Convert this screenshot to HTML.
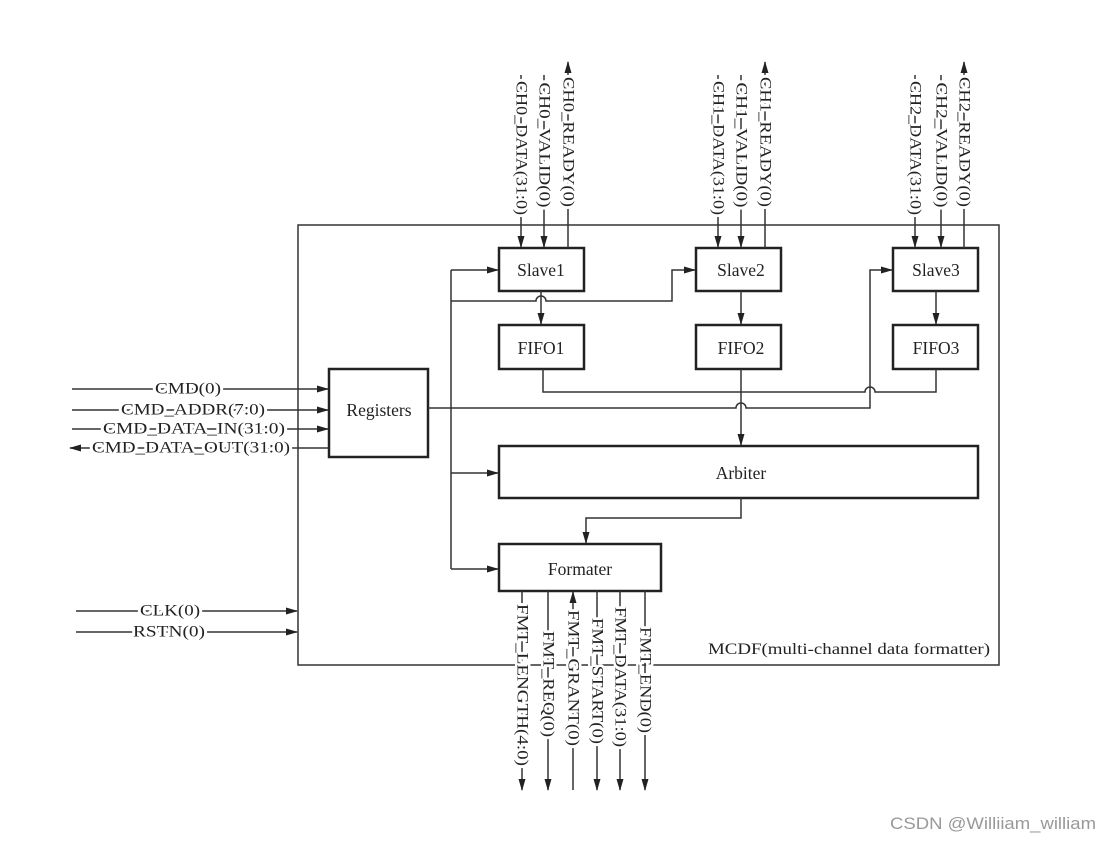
<!DOCTYPE html>
<html><head><meta charset="utf-8"><style>
html,body{margin:0;padding:0;background:#fff;}
svg{display:block;font-family:"Liberation Serif",serif;}
</style></head><body>
<svg width="1113" height="841" viewBox="0 0 1113 841" xmlns="http://www.w3.org/2000/svg">
<defs><marker id="a" markerWidth="12" markerHeight="8" refX="11" refY="4" orient="auto" markerUnits="userSpaceOnUse"><path d="M0,0.5 L12,4 L0,7.5 Z" fill="#222"/></marker>
<g id="vt" font-size="16" text-anchor="middle" dominant-baseline="central">
<text transform="translate(521,148) rotate(90)" textLength="134" lengthAdjust="spacingAndGlyphs">CH0_DATA(31:0)</text>
<text transform="translate(544,145) rotate(90)" textLength="125" lengthAdjust="spacingAndGlyphs">CH0_VALID(0)</text>
<text transform="translate(568,142) rotate(90)" textLength="130" lengthAdjust="spacingAndGlyphs">CH0_READY(0)</text>
<text transform="translate(718,148) rotate(90)" textLength="134" lengthAdjust="spacingAndGlyphs">CH1_DATA(31:0)</text>
<text transform="translate(741,145) rotate(90)" textLength="125" lengthAdjust="spacingAndGlyphs">CH1_VALID(0)</text>
<text transform="translate(765,142) rotate(90)" textLength="130" lengthAdjust="spacingAndGlyphs">CH1_READY(0)</text>
<text transform="translate(915,148) rotate(90)" textLength="134" lengthAdjust="spacingAndGlyphs">CH2_DATA(31:0)</text>
<text transform="translate(941,145) rotate(90)" textLength="125" lengthAdjust="spacingAndGlyphs">CH2_VALID(0)</text>
<text transform="translate(964,142) rotate(90)" textLength="130" lengthAdjust="spacingAndGlyphs">CH2_READY(0)</text>
<text transform="translate(522,685) rotate(90)" textLength="162" lengthAdjust="spacingAndGlyphs">FMT_LENGTH(4:0)</text>
<text transform="translate(548,684) rotate(90)" textLength="106" lengthAdjust="spacingAndGlyphs">FMT_REQ(0)</text>
<text transform="translate(573,678) rotate(90)" textLength="136" lengthAdjust="spacingAndGlyphs">FMT_GRANT(0)</text>
<text transform="translate(597,681) rotate(90)" textLength="126" lengthAdjust="spacingAndGlyphs">FMT_START(0)</text>
<text transform="translate(620,677) rotate(90)" textLength="140" lengthAdjust="spacingAndGlyphs">FMT_DATA(31:0)</text>
<text transform="translate(645,680) rotate(90)" textLength="106" lengthAdjust="spacingAndGlyphs">FMT_END(0)</text>
<text x="188" y="389" textLength="66" lengthAdjust="spacingAndGlyphs">CMD(0)</text>
<text x="193" y="410" textLength="144" lengthAdjust="spacingAndGlyphs">CMD_ADDR(7:0)</text>
<text x="194" y="429" textLength="182" lengthAdjust="spacingAndGlyphs">CMD_DATA_IN(31:0)</text>
<text x="191" y="448" textLength="198" lengthAdjust="spacingAndGlyphs">CMD_DATA_OUT(31:0)</text>
<text x="170" y="611" textLength="60" lengthAdjust="spacingAndGlyphs">CLK(0)</text>
<text x="169" y="632" textLength="72" lengthAdjust="spacingAndGlyphs">RSTN(0)</text>
</g>
</defs>
<g stroke="#333" stroke-width="1.5" fill="none">
<rect x="298" y="225" width="701" height="440"/>
</g>
<g stroke="#222" stroke-width="2.5" fill="#fff">
<rect x="499" y="248" width="85" height="43"/>
<rect x="696" y="248" width="85" height="43"/>
<rect x="893" y="248" width="85" height="43"/>
<rect x="499" y="325" width="85" height="44"/>
<rect x="696" y="325" width="85" height="44"/>
<rect x="893" y="325" width="85" height="44"/>
<rect x="329" y="369" width="99" height="88"/>
<rect x="499" y="446" width="479" height="52"/>
<rect x="499" y="544" width="162" height="47"/>
</g>
<g stroke="#333" stroke-width="1.5" fill="none">
<line x1="521" y1="75" x2="521" y2="247" marker-end="url(#a)"/>
<line x1="544" y1="75" x2="544" y2="247" marker-end="url(#a)"/>
<line x1="568" y1="248" x2="568" y2="62" marker-end="url(#a)"/>
<line x1="718" y1="75" x2="718" y2="247" marker-end="url(#a)"/>
<line x1="741" y1="75" x2="741" y2="247" marker-end="url(#a)"/>
<line x1="765" y1="248" x2="765" y2="62" marker-end="url(#a)"/>
<line x1="915" y1="75" x2="915" y2="247" marker-end="url(#a)"/>
<line x1="941" y1="75" x2="941" y2="247" marker-end="url(#a)"/>
<line x1="964" y1="248" x2="964" y2="62" marker-end="url(#a)"/>
<line x1="541" y1="291" x2="541" y2="324" marker-end="url(#a)"/>
<line x1="741" y1="291" x2="741" y2="324" marker-end="url(#a)"/>
<line x1="936" y1="291" x2="936" y2="324" marker-end="url(#a)"/>
<line x1="451" y1="270" x2="451" y2="569"/>
<line x1="451" y1="270" x2="498" y2="270" marker-end="url(#a)"/>
<path d="M451,301 H536 A5,5 0 0 1 546,301 H672 V270 H695" marker-end="url(#a)"/>
<path d="M428,408 H736 A5,5 0 0 1 746,408 H870 V270 H892" marker-end="url(#a)"/>
<line x1="451" y1="473" x2="498" y2="473" marker-end="url(#a)"/>
<line x1="451" y1="569" x2="498" y2="569" marker-end="url(#a)"/>
<path d="M543,369 V392 H865 A5,5 0 0 1 875,392 H936 V369"/>
<line x1="741" y1="369" x2="741" y2="445" marker-end="url(#a)"/>
<path d="M741,498 V518 H586 V543" marker-end="url(#a)"/>
<line x1="72" y1="389" x2="328" y2="389" marker-end="url(#a)"/>
<line x1="72" y1="410" x2="328" y2="410" marker-end="url(#a)"/>
<line x1="72" y1="429" x2="328" y2="429" marker-end="url(#a)"/>
<line x1="329" y1="448" x2="70" y2="448" marker-end="url(#a)"/>
<line x1="76" y1="611" x2="297" y2="611" marker-end="url(#a)"/>
<line x1="76" y1="632" x2="297" y2="632" marker-end="url(#a)"/>
<line x1="522" y1="591" x2="522" y2="790" marker-end="url(#a)"/>
<line x1="548" y1="591" x2="548" y2="790" marker-end="url(#a)"/>
<line x1="573" y1="790" x2="573" y2="592" marker-end="url(#a)"/>
<line x1="597" y1="591" x2="597" y2="790" marker-end="url(#a)"/>
<line x1="620" y1="591" x2="620" y2="790" marker-end="url(#a)"/>
<line x1="645" y1="591" x2="645" y2="790" marker-end="url(#a)"/>
</g>
<use href="#vt" fill="#fff" stroke="#fff" stroke-width="5" stroke-linejoin="round"/>
<use href="#vt" fill="#222" stroke="none"/>
<g font-size="17.5" text-anchor="middle" fill="#222">
<text x="541" y="276">Slave1</text>
<text x="741" y="276">Slave2</text>
<text x="936" y="276">Slave3</text>
<text x="541" y="354">FIFO1</text>
<text x="741" y="354">FIFO2</text>
<text x="936" y="354">FIFO3</text>
<text x="379" y="416">Registers</text>
<text x="741" y="479">Arbiter</text>
<text x="580" y="575">Formater</text>
<text x="849" y="654" font-size="16" textLength="282" lengthAdjust="spacingAndGlyphs">MCDF(multi-channel data formatter)</text>
</g>
<text x="993" y="829" font-size="17" text-anchor="middle" textLength="206" lengthAdjust="spacingAndGlyphs" fill="#999" style="font-family:'Liberation Sans',sans-serif">CSDN @Williiam_william</text>
</svg>
</body></html>
